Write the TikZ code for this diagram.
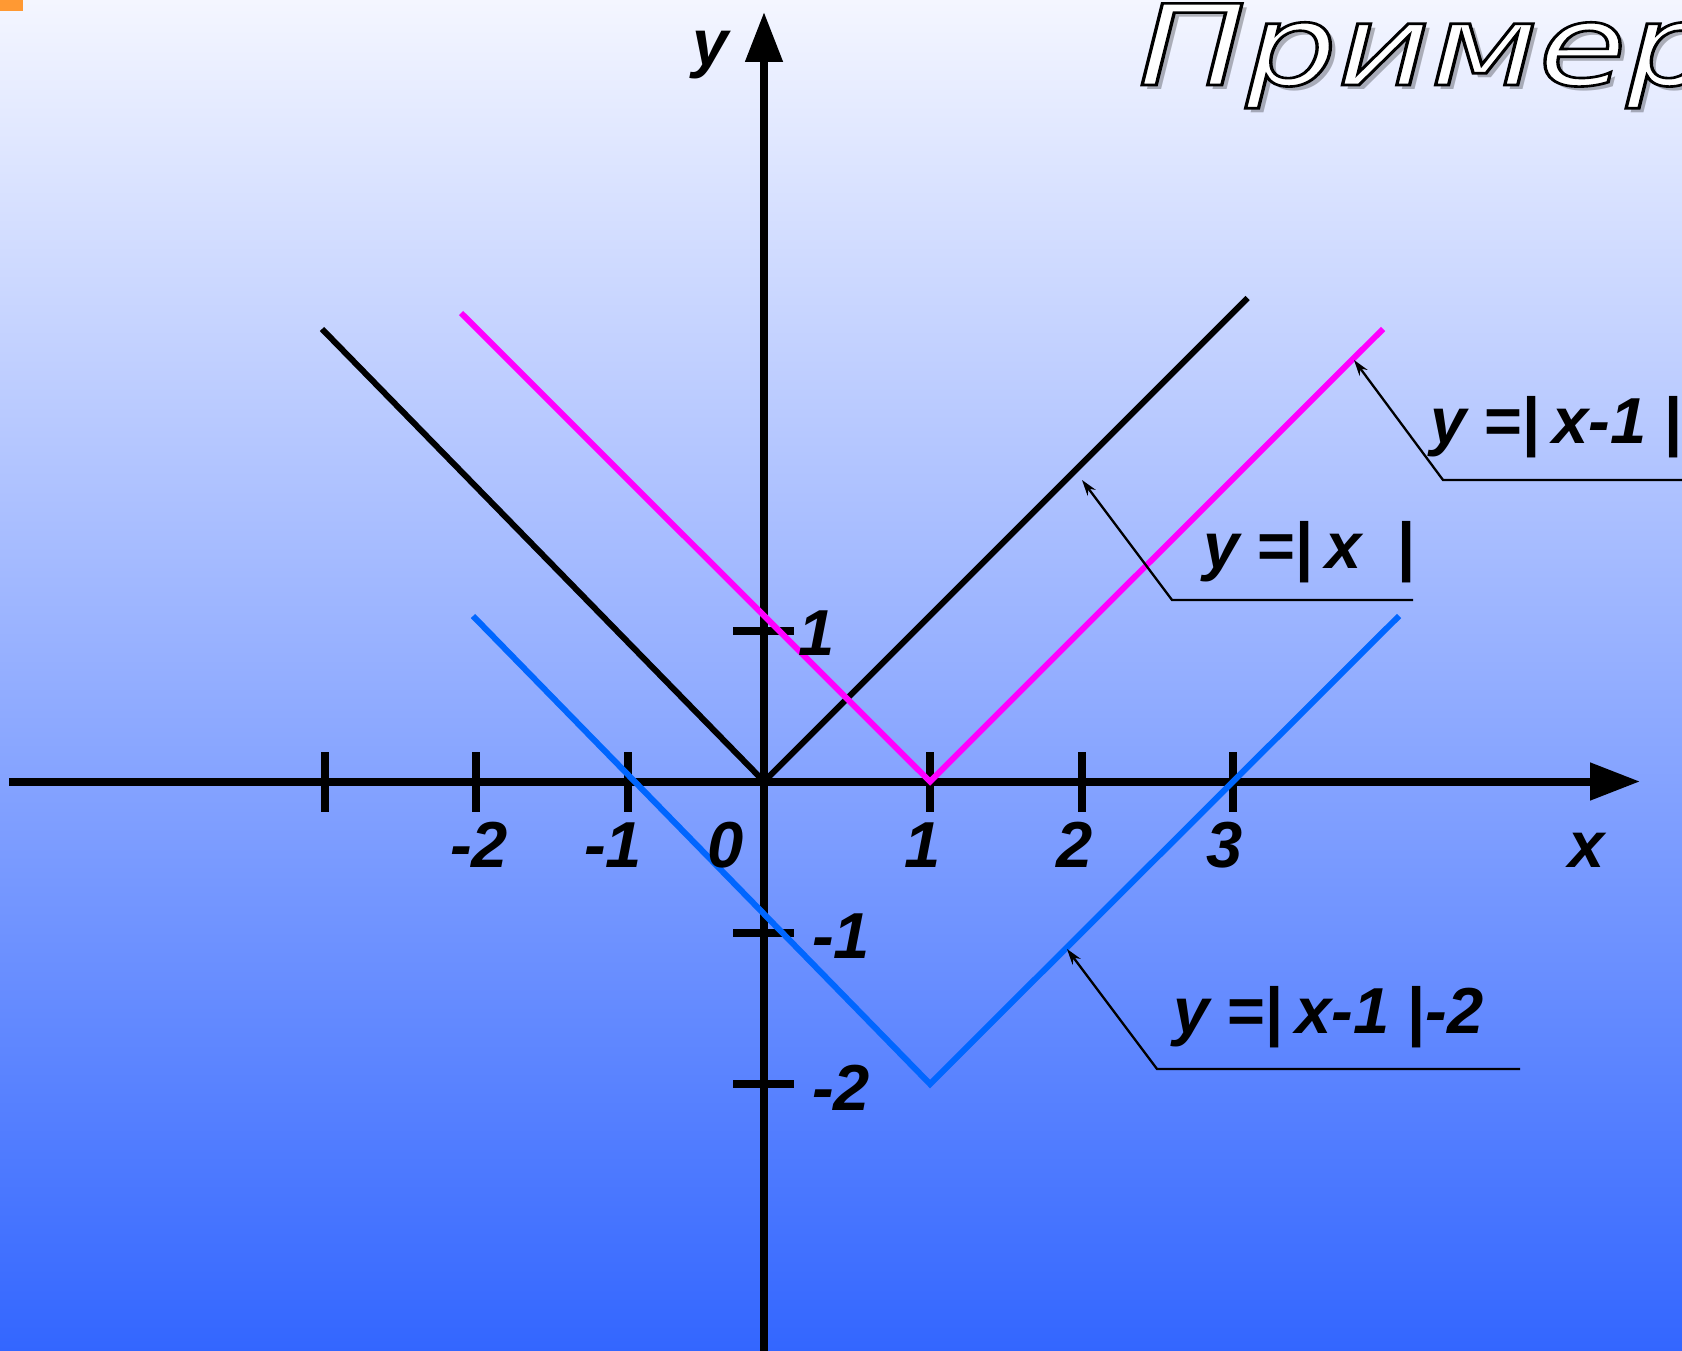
\documentclass[tikz,border=0pt]{standalone}
\usepackage{fontspec}
\usepackage{graphicx}
\setmainfont{Liberation Sans}
\newfontfamily\titlefont{DejaVu Sans Oblique}
\usetikzlibrary{arrows.meta}
\definecolor{bgtop}{RGB}{244,246,255}
\definecolor{bgbot}{RGB}{51,102,255}
\definecolor{orng}{RGB}{255,153,51}
\definecolor{pinkline}{RGB}{255,0,255}
\definecolor{blueline}{RGB}{0,102,255}
\newcommand{\lblfont}{\fontsize{65}{65}\selectfont\bfseries\itshape}
\newcommand{\up}[1]{{\upshape #1}}
\newcommand{\titletext}{\titlefont\fontsize{112}{112}\selectfont}
\tikzset{
  lbl/.style={font=\lblfont, inner sep=0pt, anchor=base},
  formula/.style={font=\lblfont, inner sep=0pt, anchor=base west},
  axisline/.style={line width=8pt, -{Triangle[length=50pt,width=36pt]}},
  tickmark/.style={line width=8pt},
  gline/.style={line width=6pt, line join=miter},
  leader/.style={line width=2.3pt, -{Stealth[length=16pt,width=10pt]}},
}
\begin{document}
\begin{tikzpicture}[x=1pt,y=-1pt]
\useasboundingbox (0,0) rectangle (1682,1351);
\shade[top color=bgtop, bottom color=bgbot] (0,0) rectangle (1682,1351);
\fill[orng] (0,0) rectangle (23,11);

% title
\begin{scope}
\clip (0,0) rectangle (1682,1351);
\node[anchor=base west, inner sep=0pt, text=black, text opacity=0.28] (titleshadow) at (1143,90) {\titletext\scalebox{1.28}[1]{Пример}};
\node[anchor=base west, inner sep=0pt] (title) at (1138,85) {\titletext\scalebox{1.28}[1]{\color{white}\special{pdf:literal direct 2 Tr 2.6 w 0 0 0 RG}Пример\special{pdf:literal direct 0 Tr}}};
\end{scope}

% axes
\coordinate (xL) at (9,781.5);
\coordinate (xR) at (1640,781.5);
\coordinate (yB) at (764,1351);
\coordinate (yT) at (764,12);
\draw[axisline] (xL) -- (xR);
\draw[axisline] (yB) -- (yT);

% x ticks
\foreach \tx/\nm in {325/m3,476/m2,627.5/m1,930/p1,1081.5/p2,1232.5/p3}{
  \coordinate (xt\nm a) at (\tx,752);
  \coordinate (xt\nm b) at (\tx,812);
  \draw[tickmark] (xt\nm a) -- (xt\nm b);
}
% y ticks
\foreach \ty/\nm in {631/p1,932.5/m1,1084/m2}{
  \coordinate (yt\nm a) at (733,\ty);
  \coordinate (yt\nm b) at (794,\ty);
  \draw[tickmark] (yt\nm a) -- (yt\nm b);
}

% graphs
\coordinate (bl) at (322,329);
\coordinate (bv) at (764,781.5);
\coordinate (br) at (1247.5,298);
\draw[gline, black] (bl) -- (bv) -- (br);
\coordinate (pl) at (461,313);
\coordinate (pv) at (930,781.5);
\coordinate (pr) at (1383,329);
\draw[gline, pinkline] (pl) -- (pv) -- (pr);
\coordinate (cl) at (473,616);
\coordinate (cv) at (930,1084);
\coordinate (cr) at (1399,616);
\draw[gline, blueline] (cl) -- (cv) -- (cr);

% axis labels
\node[lbl] (ylab) at (711,66) {y};
\node[lbl] (xlab) at (1587,867) {x};
\node[lbl] (xm2) at (479,867) {-2};
\node[lbl] (xm1) at (613,867) {-1};
\node[lbl] (x0) at (726,867) {0};
\node[lbl] (xp1) at (923,867) {1};
\node[lbl] (xp2) at (1075,867) {2};
\node[lbl] (xp3) at (1225,867) {3};
\node[lbl] (yp1) at (817,655) {1};
\node[lbl] (ym1) at (841,958) {-1};
\node[lbl] (ym2) at (841,1110) {-2};

% formulas and leaders
\node[formula] (f1) at (1430,443) {y \up{=|}\kern12pt x-1 \up{|}};
\coordinate (f1tip) at (1354,360);
\coordinate (f1bend) at (1443,480);
\coordinate (f1end) at (1682,480);
\draw[leader] (f1end) -- (f1bend) -- (f1tip);

\node[formula] (f2) at (1203,568) {y \up{=|}\kern12pt x\ \ \up{|}};
\coordinate (f2tip) at (1082,480);
\coordinate (f2bend) at (1172,600);
\coordinate (f2end) at (1413,600);
\draw[leader] (f2end) -- (f2bend) -- (f2tip);

\node[formula] (f3) at (1173,1033) {y \up{=|}\kern12pt x-1 \up{|}-2};
\coordinate (f3tip) at (1067,949);
\coordinate (f3bend) at (1157,1069);
\coordinate (f3end) at (1520,1069);
\draw[leader] (f3end) -- (f3bend) -- (f3tip);
\end{tikzpicture}
\end{document}
